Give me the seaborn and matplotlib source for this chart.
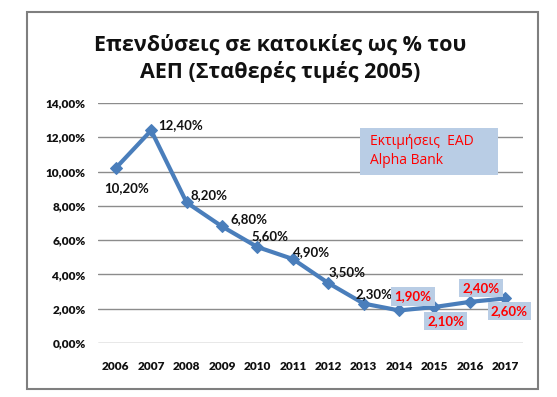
import matplotlib
matplotlib.use("Agg")
import matplotlib.pyplot as plt
import pandas as pd
import seaborn as sns
from matplotlib.patches import Rectangle

years = ["2006", "2007", "2008", "2009", "2010", "2011",
         "2012", "2013", "2014", "2015", "2016", "2017"]
values = [10.2, 12.4, 8.2, 6.8, 5.6, 4.9, 3.5, 2.3, 1.9, 2.1, 2.4, 2.6]
estimate = [False] * 8 + [True] * 4
yticks = [0, 2, 4, 6, 8, 10, 12, 14]

title = "Επενδύσεις σε κατοικίες ως % του\nΑΕΠ (Σταθερές τιμές 2005)"
note = "Εκτιμήσεις  EAD\nAlpha Bank"

# label offsets in points (dx, dy, ha)
offsets = [(8, -14, "center"), (5, 4, "left"), (3, 5, "left"), (6, 5, "left"),
           (-4, 8, "left"), (0, 5, "left"), (0, 8, "left"), (-6, 7, "left"),
           (10, 10, "center"), (8, -10, "center"), (8, 10, "center"),
           (3, -9, "center")]

sns.set_style("white")
plt.rcParams["font.family"] = ["Lato", "DejaVu Sans"]
greek_font = ["Open Sans", "DejaVu Sans"]

df = pd.DataFrame({"year": years, "value": values})

fig = plt.figure(figsize=(5.57, 3.97), dpi=100)
ax = fig.add_axes([0.176, 0.136, 0.763, 0.6045])

line_color = "#4A7EBB"
grid_color = "#8C8C8C"

for y in yticks:
    ax.axhline(y, color=grid_color, lw=1.0, zorder=0)

sns.lineplot(data=df, x="year", y="value", ax=ax, color=line_color,
             lw=3, marker="D", markersize=6, markeredgecolor=line_color,
             sort=False, zorder=3)

ax.set_xlim(-0.5, len(years) - 0.5)
ax.set_ylim(0, 14)
ax.set_yticks(yticks)
ax.set_yticklabels([f"{t:.2f}".replace(".", ",") + "%" for t in yticks])
ax.set_xlabel("")
ax.set_ylabel("")
for s in ax.spines.values():
    s.set_visible(False)
ax.tick_params(axis="both", length=0, labelsize=8.5, colors="#111111")
ax.tick_params(axis="y", pad=9)
ax.tick_params(axis="x", pad=13)
for lab in ax.get_xticklabels() + ax.get_yticklabels():
    lab.set_fontweight("heavy")

for i, (v, est) in enumerate(zip(values, estimate)):
    dx, dy, ha = offsets[i]
    txt = f"{v:.2f}".replace(".", ",") + "%"
    if est:
        ax.annotate(txt, (i, v), xytext=(dx, dy), textcoords="offset points",
                    ha=ha, va="center", fontsize=9.5, fontweight="bold",
                    color="#FF0000", zorder=5,
                    bbox=dict(boxstyle="square,pad=0.25", fc="#B9CDE5",
                              ec="none"))
    else:
        ax.annotate(txt, (i, v), xytext=(dx, dy), textcoords="offset points",
                    ha=ha, va="center", fontsize=9.5, fontweight="bold",
                    color="#111111", zorder=5)

fig.text(0.503, 0.852, title, ha="center", va="center", fontsize=15.5,
         fontweight="bold", linespacing=1.3, color="#111111",
         family=greek_font)

# note box
fig.patches.append(Rectangle((360 / 557, 1 - 175 / 397), 138 / 557, 47 / 397,
                             transform=fig.transFigure, fc="#B9CDE5",
                             ec="none", zorder=4))
fig.text(370 / 557, 1 - 151 / 397, note, ha="left", va="center",
         fontsize=10, color="#FF0000", linespacing=1.45, family=greek_font,
         zorder=5)

fig.patches.append(Rectangle((27 / 557, 1 - 389 / 397), 511 / 557, 377 / 397,
                             transform=fig.transFigure, fill=False,
                             edgecolor="#7F7F7F", lw=1.5))

fig.savefig("out.png", dpi=100)
